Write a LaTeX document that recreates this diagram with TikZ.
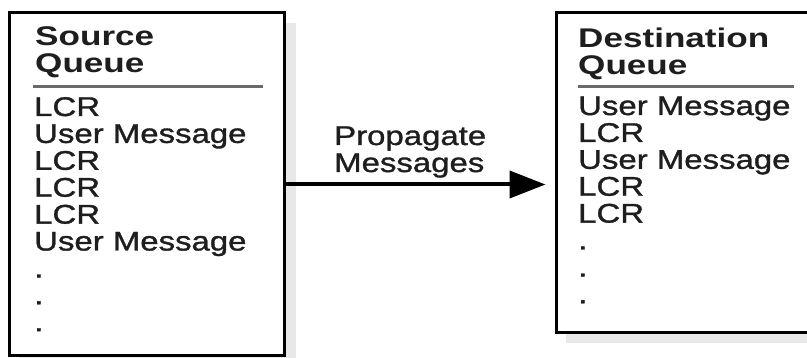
\documentclass[tikz,border=0pt]{standalone}
\usepackage{fontspec}
\usetikzlibrary{arrows.meta}
\newfontfamily\qfont{Liberation Sans}[FakeStretch=1.22,FakeBold=1.2]
\newfontfamily\hfont{Liberation Sans Bold}[FakeStretch=1.3]
\definecolor{ink}{HTML}{1E1E1E}
\definecolor{rule}{HTML}{6A6A6A}
\definecolor{shade}{HTML}{E8E8E8}
\begin{document}
\begin{tikzpicture}[x=1pt,y=-1pt,
  queuebox/.style={draw=black,line width=3pt,fill=white,inner sep=0pt},
  shadowbox/.style={fill=shade,draw=none},
  entry/.style={anchor=base west,inner sep=0pt,text=ink,
    font=\qfont\fontsize{27}{27}\selectfont},
  title/.style={entry,font=\hfont\fontsize{27}{27}\selectfont},
  divider/.style={draw=rule,line width=3pt},
  flow/.style={draw=black,line width=4pt,
    -{Triangle[length=36pt,width=27pt]}}]
\useasboundingbox (0,0) rectangle (807,358);
\clip (0,0) rectangle (807,358);

% soft drop shadows behind the two queues
\fill[shadowbox] (19,23) rectangle (296,366);
\fill[shadowbox] (566,23) rectangle (840,343);

% source queue
\node[queuebox,minimum width=275pt,minimum height=343pt] (lbox) at (147,184.5) {};
\node[title] (lt1) at (35,46) {Source};
\node[title] (lt2) at (35,73) {Queue};
\coordinate (ls1) at (33,87);
\coordinate (ls2) at (263,87);
\draw[divider] (ls1) -- (ls2);
\foreach \t [count=\i from 0] in {LCR,User Message,LCR,LCR,LCR,User Message,.,.,.}
  \node[entry] (li\i) at (34,116+26.9*\i) {\t};

% destination queue
\node[queuebox,minimum width=274pt,minimum height=320pt] (rbox) at (693,173) {};
\node[title] (rt1) at (578,48) {Destination};
\node[title] (rt2) at (578,75) {Queue};
\coordinate (rs1) at (578,87);
\coordinate (rs2) at (794,87);
\draw[divider] (rs1) -- (rs2);
\foreach \t [count=\i from 0] in {User Message,LCR,User Message,LCR,LCR,.,.,.}
  \node[entry] (ri\i) at (578,115+26.9*\i) {\t};

% propagation arrow
\draw[flow,shorten >=9pt] (lbox.east) -- (lbox.east -| rbox.west);
\node[entry] (prop) at (334,145) {Propagate};
\node[entry] (msgs) at (334,172) {Messages};
\end{tikzpicture}
\end{document}
